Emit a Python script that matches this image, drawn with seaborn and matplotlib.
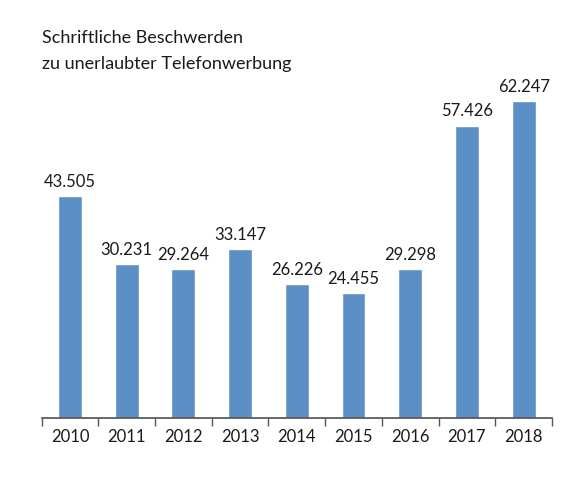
import matplotlib
matplotlib.use("Agg")
import matplotlib.pyplot as plt
import seaborn as sns
import numpy as np
import pandas as pd

years = ["2010","2011","2012","2013","2014","2015","2016","2017","2018"]
values = [43505,30231,29264,33147,26226,24455,29298,57426,62247]
labels = ["43.505","30.231","29.264","33.147","26.226","24.455","29.298","57.426","62.247"]

sns.set_theme(style="white")
plt.rcParams['font.family'] = ['Lato', 'DejaVu Sans']

fig = plt.figure(figsize=(5.85,4.88), dpi=100)
ax = fig.add_axes([41.6/585, 1-418/488, (552-41.6)/585, 358/488])
df = pd.DataFrame({"year": years, "value": values})
sns.barplot(data=df, x="year", y="value", color="#5b8fc6", saturation=1, width=0.42, ax=ax)
for p, lab in zip(ax.patches, labels):
    ax.text(p.get_x()+p.get_width()/2, p.get_height()+1200, lab, ha="center", va="bottom", fontsize=12, color="#1a1a1a")
ax.set_xlim(-0.5, 8.5)
ax.set_ylim(0, 70300)
ax.set_yticks([])
ax.set_xlabel(""); ax.set_ylabel("")
for s in ["top","right","left"]:
    ax.spines[s].set_visible(False)
ax.spines["bottom"].set_color("#555555")
ax.tick_params(axis="x", which="major", length=0, labelsize=12, colors="#1a1a1a", pad=8)
ax.set_xticks(np.arange(-0.5, 9, 1), minor=True)
ax.tick_params(axis="x", which="minor", length=6, color="#555555", bottom=True, direction="out")
fig.text(42/585, 1-38/488, "Schriftliche Beschwerden", fontsize=13, color="#1a1a1a", va="center")
fig.text(42/585, 1-64/488, "zu unerlaubter Telefonwerbung", fontsize=13, color="#1a1a1a", va="center")
fig.savefig("out.png", dpi=100)
